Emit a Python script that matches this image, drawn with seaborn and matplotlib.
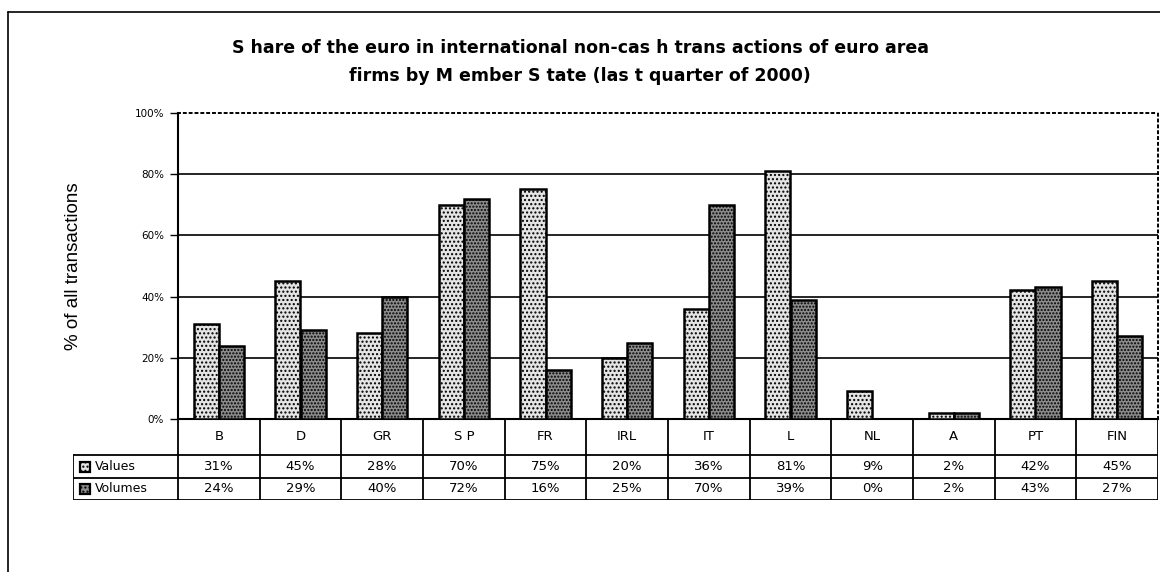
import pandas as pd
import matplotlib.pyplot as plt
import seaborn as sns
from matplotlib.lines import Line2D
from matplotlib.patches import Rectangle
from matplotlib.ticker import PercentFormatter

# data
countries = ['B', 'D', 'GR', 'S P', 'FR', 'IRL', 'IT', 'L', 'NL', 'A', 'PT', 'FIN']
values = [31, 45, 28, 70, 75, 20, 36, 81, 9, 2, 42, 45]
volumes = [24, 29, 40, 72, 16, 25, 70, 39, 0, 2, 43, 27]
series = ['Values', 'Volumes']

title = ('S hare of the euro in international non-cas h trans actions of euro area\n'
         'firms by M ember S tate (las t quarter of 2000)')

df = pd.DataFrame({
    'country': countries * 2,
    'series': [series[0]] * len(countries) + [series[1]] * len(countries),
    'share': values + volumes,
})

sns.set_style("white")
plt.rcParams['font.family'] = ['DejaVu Sans']
plt.rcParams['hatch.linewidth'] = 1.0
plt.rcParams['text.color'] = 'black'
plt.rcParams['axes.labelcolor'] = 'black'
plt.rcParams['ytick.color'] = 'black'

W, H = 1160, 572
fig = plt.figure(figsize=(W / 100, H / 100), dpi=100)

# main plot area (pixel layout of the original)
px_l, px_r, px_t, px_b = 178, 1158, 113, 419
ax = fig.add_axes([px_l / W, 1 - px_b / H, (px_r - px_l) / W, (px_b - px_t) / H])

face = {'Values': '#e4e4e4', 'Volumes': '#8c8c8c'}
sns.barplot(data=df, x='country', y='share', hue='series', order=countries,
            hue_order=series, palette=face, width=0.62, gap=0,
            edgecolor='black', linewidth=1.8, legend=False, ax=ax, zorder=3)
for cont, hatch in zip(ax.containers, ['....', '.....']):
    for p in cont.patches:
        p.set_hatch(hatch)

ax.set_ylim(0, 100)
ax.set_xlim(-0.5, len(countries) - 0.5)
ax.set_yticks([0, 20, 40, 60, 80, 100])
ax.yaxis.set_major_formatter(PercentFormatter(decimals=0))
ax.tick_params(axis='y', direction='out', length=6, width=1, labelsize=7.5,
               left=True, pad=4, colors='black')
ax.set_xticks([])
ax.set_xlabel('')
ax.set_ylabel('% of all transactions', family='Liberation Sans', fontsize=13.5,
              labelpad=38, color='black')
for yv in [20, 40, 60, 80]:
    ax.axhline(yv, color='black', lw=1.2, zorder=1)
for s in ['left', 'bottom']:
    ax.spines[s].set_color('black')
    ax.spines[s].set_linewidth(1.5)
for s in ['top', 'right']:
    ax.spines[s].set_color('black')
    ax.spines[s].set_linewidth(1.4)
    ax.spines[s].set_linestyle((0, (1, 2)))

# data table below the chart
tb_l, tb_b = 73, 500
unit = (px_r - px_l) / len(countries)
xmin = -0.5 - (px_l - tb_l) / unit
tax = fig.add_axes([tb_l / W, 1 - tb_b / H, (px_r - tb_l) / W, (tb_b - px_b) / H])
tax.set_xlim(xmin, len(countries) - 0.5)
tax.set_ylim(0, tb_b - px_b)
tax.axis('off')
lk = dict(color='black', lw=1.3)
for i in range(len(countries) + 1):
    tax.plot([i - 0.5, i - 0.5], [0, 81], **lk)
tax.plot([xmin, xmin], [0, 45], **lk)
for yv in [45, 22, 0.5]:
    tax.plot([xmin, len(countries) - 0.5], [yv, yv], **lk)

tfont = dict(ha='center', va='center', fontsize=9.5, color='black')
for i, c in enumerate(countries):
    tax.text(i, 63, c, **tfont)
    tax.text(i, 33.5, f'{values[i]}%', **tfont)
    tax.text(i, 11, f'{volumes[i]}%', **tfont)

kw = 10 / unit
for yc, name in zip([33.5, 11], series):
    tax.add_patch(Rectangle((xmin + 0.08, yc - 5), kw, 10, facecolor=face[name],
                            edgecolor='black', lw=1.6, hatch='....'))
    tax.text(xmin + 0.08 + kw + 0.07, yc, name, ha='left', va='center',
             fontsize=9, color='black')

fig.text(580 / W, 1 - 62 / H, title, ha='center', va='center', fontsize=12.5,
         fontweight='bold', linespacing=1.75, color='black')

# outer frame (left and top edges)
fig.add_artist(Line2D([8 / W, 8 / W], [0, 1 - 12 / H], color='black', lw=1.2))
fig.add_artist(Line2D([8 / W, 1], [1 - 12 / H, 1 - 12 / H], color='black', lw=1.2))

fig.savefig('out.png', dpi=100)
